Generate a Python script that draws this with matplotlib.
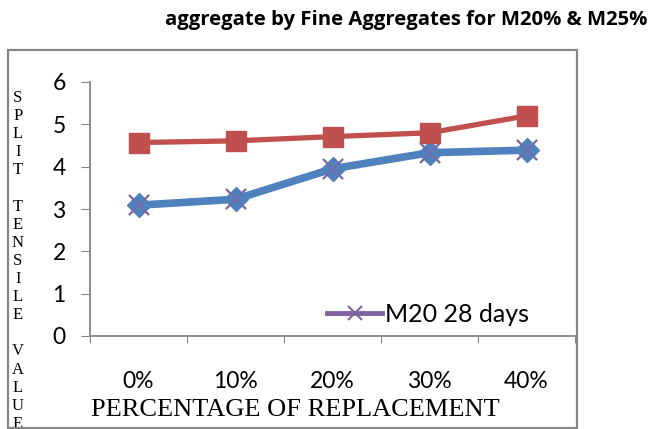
import matplotlib
matplotlib.use("Agg")
import matplotlib.pyplot as plt
from matplotlib.patches import Rectangle
from matplotlib.lines import Line2D
from matplotlib.transforms import Bbox, TransformedBbox

# values
categories = ["0%", "10%", "20%", "30%", "40%"]
m25_vals = [4.57, 4.61, 4.71, 4.80, 5.20]
m20_vals = [3.09, 3.23, 3.95, 4.33, 4.39]
m20_28_vals = [3.09, 3.23, 3.95, 4.33, 4.39]
yticks = [0, 1, 2, 3, 4, 5, 6]

W, H = 651, 429
fig = plt.figure(figsize=(W / 100, H / 100), dpi=100)

# outer chart frame
fig.patches.append(Rectangle((8 / W, 1 - 428 / H), 569 / W, 378 / H,
                             transform=fig.transFigure, fill=False,
                             edgecolor="#868686", linewidth=1.6))

ax = fig.add_axes([90 / W, 1 - 336 / H, 485 / W, 254 / H])
x = list(range(len(categories)))

ax.plot(x, m20_28_vals, color="#8064A2", linewidth=4, marker="x",
        markersize=14, markeredgewidth=1.5, zorder=2)
ax.plot(x, m20_vals, color="#4F81BD", linewidth=5.5, marker="D",
        markersize=12, zorder=3)
ax.plot(x, m25_vals, color="#C0504D", linewidth=3.8, marker="s",
        markersize=14, zorder=4)
# x markers sit on top of diamonds
ax.plot(x, m20_28_vals, linestyle="none", color="#8064A2", marker="x",
        markersize=14, markeredgewidth=1.2, alpha=0.8, zorder=5)

ax.set_xlim(-0.5, 4.5)
ax.set_ylim(0, 6)
ax.set_yticks(yticks)
ax.set_yticklabels([str(v) for v in yticks], fontsize=16.5, family="Lato")
ax.set_xticks([i - 0.5 for i in range(len(categories) + 1)])
ax.set_xticklabels([])
ax.set_xticks(x, minor=True)
ax.set_xticklabels(categories, minor=True, fontsize=16.5, family="Lato")
ax.tick_params(axis="x", which="minor", length=0, pad=25)
ax.tick_params(axis="x", which="major", direction="out", length=5,
               color="#868686")
ax.tick_params(axis="y", direction="out", length=6.5, color="#868686",
               pad=11)

for s in ["top", "right"]:
    ax.spines[s].set_visible(False)
for s in ["left", "bottom"]:
    ax.spines[s].set_color("#868686")
    ax.spines[s].set_linewidth(1.3)

proxy = Line2D([], [], color="#8064A2", linewidth=3.5, marker="x",
               markersize=10, markeredgewidth=1.5)
fig.legend([proxy], ["M20 28 days"], loc="center left",
           bbox_to_anchor=(327 / W, 1 - 314 / H),
           frameon=False, prop={"family": "Lato", "size": 18},
           handlelength=2.2, handletextpad=0.1, borderpad=0,
           borderaxespad=0)

fig.text(295 / W, 1 - 410 / H, "PERCENTAGE OF REPLACEMENT", ha="center",
         va="center", family="Liberation Serif", fontsize=19)

clip = TransformedBbox(Bbox([[0, 1 - 427 / H], [1, 1]]), fig.transFigure)
ylabel = "SPLIT TENSILE VALUE"
for i, ch in enumerate(ylabel):
    t = fig.text(18 / W, 1 - (98 + i * 18.1) / H, ch, ha="center",
                 va="center", family="Liberation Serif", fontsize=12)
    t.set_clip_box(clip)
    t.set_clip_on(True)

fig.text(647 / W, 1 - 20 / H, "aggregate by Fine Aggregates for M20% & M25%",
         ha="right", va="center", family="Open Sans", fontweight="bold",
         fontsize=14.6)

fig.savefig("out.png", dpi=100)
